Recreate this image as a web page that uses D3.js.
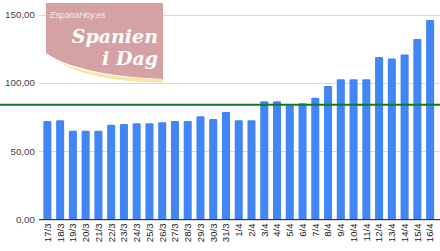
<!DOCTYPE html>
<html>
<head>
<meta charset="utf-8">
<script src="https://cdn.jsdelivr.net/npm/d3@7.9.0/dist/d3.min.js"></script>
<style>
  html, body { margin: 0; padding: 0; background: #fff; }
  svg { display: block; }
  .tick text { font-family: "Liberation Sans", Arial, sans-serif; }
</style>
</head>
<body>
<svg id="chart" width="440" height="251"></svg>
<script>
// daily values, 17 March - 16 April
const days = ['17/3', '18/3', '19/3', '20/3', '21/3', '22/3', '23/3', '24/3', '25/3', '26/3',
  '27/3', '28/3', '29/3', '30/3', '31/3', '1/4', '2/4', '3/4', '4/4', '5/4', '6/4', '7/4',
  '8/4', '9/4', '10/4', '11/4', '12/4', '13/4', '14/4', '15/4', '16/4'];
const values = [72.1, 72.6, 65.0, 65.0, 65.0, 69.4, 69.9, 70.4, 70.4, 71.2,
  72.1, 72.1, 75.6, 73.6, 78.7, 72.6, 72.6, 86.6, 86.6, 83.6, 85.1, 89.0,
  97.6, 102.7, 102.7, 102.7, 118.9, 117.8, 120.8, 132.1, 146.0];
const yTicks = [0, 50, 100, 150];
const referenceLevel = 84;

const svg = d3.select('#chart');
const W = 440;

const y = d3.scaleLinear().domain([0, 150]).range([219.5, 14.5]);
const x = d3.scaleBand().domain(days).range([41, 436.5])
  .paddingInner(0.37).paddingOuter(0.185);

const fmt = (v) => d3.format('.2f')(v).replace('.', ',');

// gridlines + y labels
const yAxis = svg.append('g')
  .attr('transform', 'translate(39,0)')
  .call(d3.axisLeft(y).tickValues(yTicks).tickSize(-(W - 39)).tickFormat(fmt).tickPadding(4));
yAxis.select('.domain').remove();
yAxis.selectAll('.tick line').attr('stroke', '#d9d9d9').attr('shape-rendering', 'crispEdges');
yAxis.selectAll('.tick text').attr('fill', '#444').attr('font-size', 9.8);

// watermark logo
const logo = svg.append('g');
logo.append('path')
  .attr('d', 'M46,3 H163 V79 C120,77 72,71 46,53 Z')
  .attr('fill', '#d5a2a3');
logo.append('path')
  .attr('d', 'M54,59 C76,72 120,78.5 163,79 V82.5 C120,82 80,77 54,59 Z')
  .attr('fill', '#f6e6aa');
logo.append('text')
  .attr('x', 50).attr('y', 18)
  .attr('font-family', '"Liberation Sans", Arial, sans-serif')
  .attr('font-style', 'italic').attr('font-size', 8.6)
  .attr('fill', '#fff').attr('fill-opacity', 0.85)
  .text('EspanaHoy.es');
const brand = logo.append('text')
  .attr('text-anchor', 'end')
  .attr('font-family', '"DejaVu Serif", serif')
  .attr('font-style', 'italic').attr('font-weight', 'bold').attr('font-size', 19)
  .attr('fill', '#fff');
brand.append('tspan').attr('x', 158).attr('y', 42.5).text('Spanien');
brand.append('tspan').attr('x', 158).attr('y', 65).text('i Dag');

// bars
svg.append('g')
  .selectAll('rect')
  .data(values)
  .join('rect')
  .attr('x', (d, i) => x(days[i]))
  .attr('y', (d) => y(d))
  .attr('width', x.bandwidth())
  .attr('height', (d) => y(0) - y(d))
  .attr('rx', 1.2)
  .attr('fill', '#4285f4');

// baseline
svg.append('line')
  .attr('x1', 39).attr('x2', W)
  .attr('y1', y(0)).attr('y2', y(0))
  .attr('stroke', '#333').attr('stroke-width', 1);

// x labels
const xAxis = svg.append('g')
  .attr('transform', `translate(0,${y(0)})`)
  .call(d3.axisBottom(x).tickSize(0).tickPadding(0));
xAxis.select('.domain').remove();
xAxis.selectAll('.tick text')
  .attr('transform', 'rotate(-90)')
  .attr('text-anchor', 'end')
  .attr('x', -4).attr('y', 0).attr('dy', '0.35em')
  .attr('fill', '#222').attr('font-size', 9.6);

// reference level
svg.append('line')
  .attr('x1', 0).attr('x2', W)
  .attr('y1', y(referenceLevel)).attr('y2', y(referenceLevel))
  .attr('stroke', '#0f7b21').attr('stroke-width', 2);
</script>
</body>
</html>
